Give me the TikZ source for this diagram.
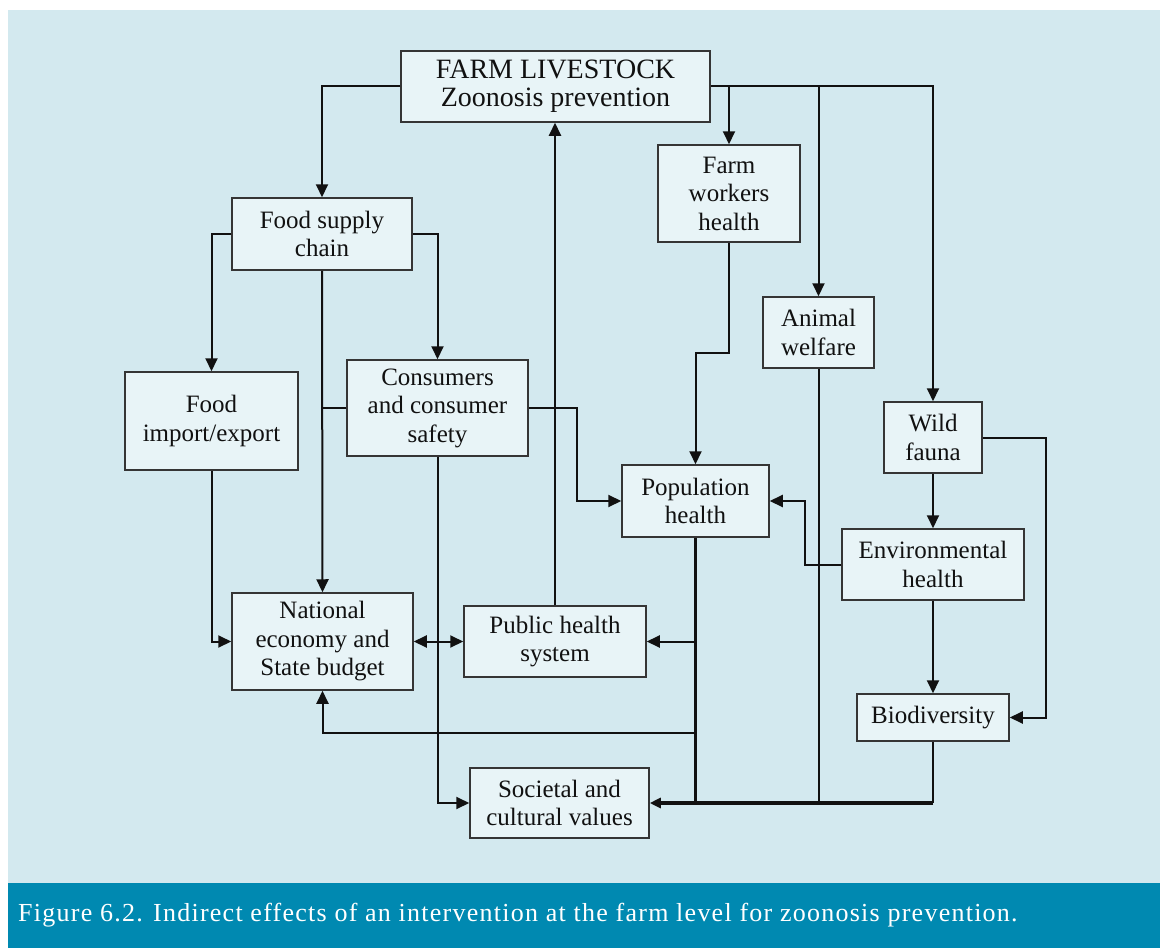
\documentclass[tikz,border=0pt]{standalone}
\usepackage{fontspec}
\setmainfont{Liberation Serif}
\newfontfamily\capfont{Liberation Serif}[LetterSpace=4.8]
\usetikzlibrary{arrows.meta,calc}
\definecolor{bglight}{HTML}{D3E9EF}
\definecolor{boxfill}{HTML}{E8F4F7}
\definecolor{capbar}{HTML}{0089B1}
\definecolor{ink}{HTML}{111111}
\begin{document}
\begin{tikzpicture}[x=1pt,y=-1pt,
  box/.style={draw=ink!85,line width=1.5pt,fill=boxfill,align=center,inner sep=0pt,
    font=\fontsize{25}{28.5}\selectfont,text=ink},
  conn/.style={draw=ink,line width=2pt},
  arr/.style={conn,-{Triangle[length=13pt,width=12pt]}},
  darr/.style={conn,{Triangle[length=13pt,width=12pt]}-{Triangle[length=13pt,width=12pt]}},
  trunk/.style={draw=ink,line width=3.5pt},
  trunkarr/.style={trunk,-{Triangle[length=11pt,width=10pt]}}]
\useasboundingbox (0,0) rectangle (1160,950);
\fill[white] (0,0) rectangle (1160,950);
\fill[bglight] (8,10) rectangle (1160,883);
\fill[capbar] (8,883) rectangle (1160,948);
\node[anchor=base west,text=white,font=\capfont\fontsize{26}{30}\selectfont,inner sep=0pt] (cap) at (18,921)
  {Figure 6.2. Indirect effects of an intervention at the farm level for zoonosis prevention.};
% boxes
\node[box,minimum width=309pt,minimum height=71pt,font=\fontsize{28}{28}\selectfont] (farm) at (555.5,86.5) {FARM LIVESTOCK\\Zoonosis prevention};
\node[box,minimum width=180pt,minimum height=72pt] (fs) at (322,234) {Food supply\\chain};
\node[box,minimum width=142pt,minimum height=97pt] (fw) at (729,193.5) {Farm\\workers\\health};
\node[box,minimum width=111pt,minimum height=71pt] (aw) at (818.5,332.5) {Animal\\welfare};
\node[box,minimum width=98pt,minimum height=71pt] (wf) at (933,437.5) {Wild\\fauna};
\node[box,minimum width=173pt,minimum height=98pt] (fi) at (211.5,421) {Food\\import/export};
\node[box,minimum width=181pt,minimum height=96pt] (cs) at (437.5,408) {Consumers\\and consumer\\safety};
\node[box,minimum width=147pt,minimum height=72pt] (ph) at (695.5,501) {Population\\health};
\node[box,minimum width=182pt,minimum height=71pt] (eh) at (933,564.5) {Environmental\\health};
\node[box,minimum width=181pt,minimum height=97pt] (ne) at (322.5,641.5) {National\\economy and\\State budget};
\node[box,minimum width=182pt,minimum height=71pt] (phs) at (555,641.5) {Public health\\system};
\node[box,minimum width=152pt,minimum height=47pt] (bd) at (933,717.5) {Biodiversity};
\node[box,minimum width=179pt,minimum height=70pt] (sc) at (559.5,803) {Societal and\\cultural values};
% connectors
\coordinate (k) at (695.5,733);
\draw[arr] (farm.west) -| (fs.north);
\draw[arr] (fs.west) -| (fi.north);
\draw[arr] (fs.east) -| (cs.north);
\draw[arr] (fs.south) -- (ne.north);
\draw[conn] (cs.west) -- (cs.west -| fs.south);
\draw[arr] (cs.east) -- ++(48,0) |- (ph.west);
\draw[arr] (cs.south) |- (sc.west);
\draw[arr] (fi.south) |- (ne.west);
\draw[darr] (ne.east) -- (phs.west);
\draw[arr] (phs.north) -- (phs.north |- farm.south);
\draw[arr] (farm.east) -| (wf.north);
\draw[arr] (farm.east -| fw.north) -- (fw.north);
\draw[arr] (farm.east -| aw.north) -- (aw.north);
\draw[arr] (fw.south) -- ++(0,110) -| (ph.north);
\draw[arr] (wf.east) -- ++(63,0) |- (bd.east);
\draw[arr] (wf.south) -- (eh.north);
\draw[arr] (eh.west) -- ++(-36,0) |- (ph.east);
\draw[arr] (eh.south) -- (bd.north);
\draw[trunk] (ph.south) -- (ph.south |- sc.east);
\draw[arr] (ph.south |- phs.east) -- (phs.east);
\draw[arr] (k) -| (ne.south);
\draw[conn] (aw.south) -- (aw.south |- sc.east);
\draw[conn] (bd.south) -- (bd.south |- sc.east);
\draw[trunkarr] (bd.south |- sc.east) -- (sc.east);
\end{tikzpicture}
\end{document}
